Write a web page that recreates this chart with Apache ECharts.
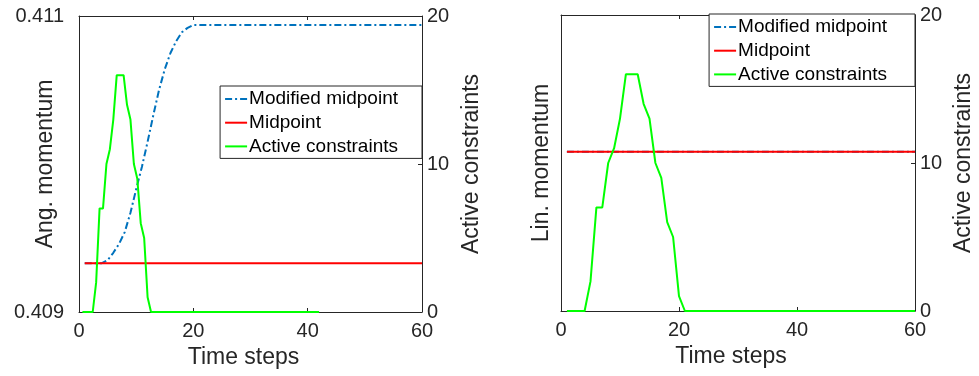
<!DOCTYPE html>
<html>
<head>
<meta charset="utf-8">
<script src="https://cdn.jsdelivr.net/npm/echarts@6/dist/echarts.min.js"></script>
<style>
html,body{margin:0;padding:0;background:#fff;}
#chart{width:979px;height:376px;}
</style>
</head>
<body>
<div id="chart"></div>
<script>
// ---- Data ----
const xTicks = [0, 20, 40, 60];
const seriesNames = ['Modified midpoint', 'Midpoint', 'Active constraints'];

// Left panel: angular momentum
const angModified = [[1,0.40933],[2,0.40933],[3,0.40933],[4,0.40933],[5,0.40935],[6,0.40940],[7,0.40946],[8,0.40954],[9,0.40967],[10,0.40983],[11,0.40998],[12,0.41015],[13,0.41033],[14,0.41050],[15,0.41064],[16,0.41075],[17,0.41083],[18,0.41089],[19,0.41092],[20,0.41094],[60,0.41094]];
const angMidpoint = [[1,0.40933],[60,0.40933]];
const angActive = [[0.6,0],[2.4,0],[3.0,2],[3.6,7],[4.2,7],[4.8,10],[5.4,11],[6.0,13],[6.6,16],[7.8,16],[8.4,14],[9.0,13],[9.6,10],[10.2,9],[10.8,6],[11.4,5],[12.0,1],[12.6,0],[42,0]];

// Right panel: linear momentum (left axis unlabeled, normalized 0..1)
const linModified = [[1,0.538],[60,0.538]];
const linMidpoint = [[1,0.538],[60,0.538]];
const linActive = [[1,0],[4,0],[5,2],[6,7],[7,7],[8,10],[9,11],[10,13],[11,16],[13,16],[14,14],[15,13],[16,10],[17,9],[18,6],[19,5],[20,1],[21,0],[60,0]];

// ---- Chart ----
const FONT = "'Liberation Sans', Arial, Helvetica, sans-serif";
const AX = '#262626';
const BLUE = '#0072BD', RED = '#FF0000', GREEN = '#00FF00';

const chart = echarts.init(document.getElementById('chart'), null, {renderer: 'canvas'});

function xAxisBottom(gi) {
  return {
    type: 'value', gridIndex: gi, position: 'bottom', min: 0, max: 60, interval: 20,
    name: 'Time steps', nameLocation: 'middle', nameGap: 34, nameMoveOverlap: false,
    nameTextStyle: {fontFamily: FONT, fontSize: 23, color: AX, padding: [0, 14, 0, 0]},
    axisLine: {show: true, onZero: false, lineStyle: {color: AX, width: 1}},
    axisTick: {show: true, inside: true, length: 4, lineStyle: {color: AX}},
    axisLabel: {fontFamily: FONT, fontSize: 20, color: AX, margin: 9},
    splitLine: {show: false}
  };
}
function xAxisTop(gi) {
  return {
    type: 'value', gridIndex: gi, position: 'top', min: 0, max: 60, interval: 20,
    axisLine: {show: true, onZero: false, lineStyle: {color: AX, width: 1}},
    axisTick: {show: true, inside: true, length: 4, lineStyle: {color: AX}},
    axisLabel: {show: false},
    splitLine: {show: false}
  };
}
function yAxisRight(gi, gap) {
  return {
    type: 'value', gridIndex: gi, position: 'right', min: 0, max: 20, interval: 10,
    name: 'Active constraints', nameLocation: 'middle', nameGap: gap, nameRotate: 90, nameMoveOverlap: false,
    nameTextStyle: {fontFamily: FONT, fontSize: 23, color: AX},
    axisLine: {show: true, onZero: false, lineStyle: {color: AX, width: 1}},
    axisTick: {show: true, inside: true, length: 4, lineStyle: {color: AX}},
    axisLabel: {fontFamily: FONT, fontSize: 20, color: AX, margin: 5},
    splitLine: {show: false}
  };
}

const legendCommon = {
  orient: 'vertical',
  data: seriesNames,
  itemWidth: 22, itemHeight: 14, itemGap: 3.7,
  borderColor: AX, borderWidth: 1, backgroundColor: '#fff',
  itemStyle: {opacity: 0},
  lineStyle: {width: 2},
  textStyle: {fontFamily: FONT, fontSize: 19, color: '#000', lineHeight: 20, padding: [0, 0, 0, -3]},
  selectedMode: false
};

const option = {
  animation: false,
  backgroundColor: '#fff',
  grid: [
    {left: 79, top: 16, width: 343, height: 296, outerBoundsMode: 'none', containLabel: false},
    {left: 561, top: 15, width: 354, height: 296, outerBoundsMode: 'none', containLabel: false}
  ],
  legend: [
    Object.assign({}, legendCommon, {right: 557, top: 86, padding: [3, 24, 2, 4]}),
    Object.assign({}, legendCommon, {right: 64, top: 14, padding: [3, 28, 2, 4]})
  ],
  xAxis: [xAxisBottom(0), xAxisTop(0), xAxisBottom(1), xAxisTop(1)],
  yAxis: [
    {
      type: 'value', gridIndex: 0, position: 'left', min: 0.409, max: 0.411, interval: 0.001,
      name: 'Ang. momentum', nameLocation: 'middle', nameGap: 22, nameRotate: 90, nameMoveOverlap: false,
      nameTextStyle: {fontFamily: FONT, fontSize: 23, color: AX},
      axisLine: {show: true, onZero: false, lineStyle: {color: AX, width: 1}},
      axisTick: {show: false},
      axisLabel: {fontFamily: FONT, fontSize: 20, color: AX, margin: 15,
        formatter: v => (Math.abs(v - 0.410) < 1e-7 ? '' : v.toFixed(3))},
      splitLine: {show: false}
    },
    yAxisRight(0, 38),
    {
      type: 'value', gridIndex: 1, position: 'left', min: 0, max: 1,
      name: 'Lin. momentum', nameLocation: 'middle', nameGap: 8, nameRotate: 90, nameMoveOverlap: false,
      nameTextStyle: {fontFamily: FONT, fontSize: 23, color: AX},
      axisLine: {show: true, onZero: false, lineStyle: {color: AX, width: 1}},
      axisTick: {show: false},
      axisLabel: {show: false},
      splitLine: {show: false}
    },
    yAxisRight(1, 37)
  ],
  series: [
    {name: seriesNames[0], type: 'line', xAxisIndex: 0, yAxisIndex: 0, data: angModified, symbol: 'none',
      lineStyle: {color: BLUE, width: 2, type: [7, 3, 2, 3]}, itemStyle: {color: BLUE}, z: 2},
    {name: seriesNames[1], type: 'line', xAxisIndex: 0, yAxisIndex: 0, data: angMidpoint, symbol: 'none',
      lineStyle: {color: RED, width: 2}, itemStyle: {color: RED}, z: 3},
    {name: seriesNames[2], type: 'line', xAxisIndex: 0, yAxisIndex: 1, data: angActive, symbol: 'none',
      lineStyle: {color: GREEN, width: 2}, itemStyle: {color: GREEN}, z: 4},
    {name: seriesNames[0], type: 'line', xAxisIndex: 2, yAxisIndex: 2, data: linModified, symbol: 'none',
      lineStyle: {color: BLUE, width: 2, type: [7, 3, 2, 3]}, itemStyle: {color: BLUE}, z: 2},
    {name: seriesNames[1], type: 'line', xAxisIndex: 2, yAxisIndex: 2, data: linMidpoint, symbol: 'none',
      lineStyle: {color: RED, width: 2}, itemStyle: {color: RED}, z: 3},
    {name: seriesNames[2], type: 'line', xAxisIndex: 2, yAxisIndex: 3, data: linActive, symbol: 'none',
      lineStyle: {color: GREEN, width: 2}, itemStyle: {color: GREEN}, z: 4}
  ]
};
chart.setOption(option);
</script>
</body>
</html>
